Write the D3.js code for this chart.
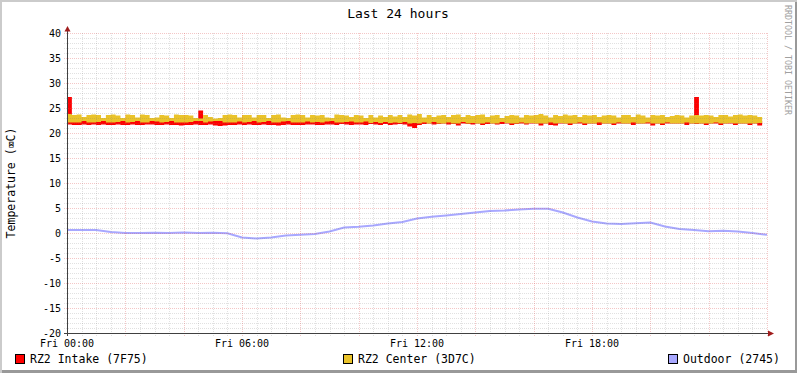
<!DOCTYPE html>
<html>
<head>
<meta charset="utf-8">
<script src="https://cdn.jsdelivr.net/npm/d3@7"></script>
<style>
  body { margin: 0; background: #fff; }
  text { font-family: "DejaVu Sans Mono", monospace; }
</style>
</head>
<body>
<div id="chart"></div>
<script>
// series, 10 minute bins from Fri 00:00 (min / max envelope of each bin)
const intakeHi = [
  27.2, 22.4, 22.4, 22.4, 22.4, 22.4, 22.4, 22.4, 22.4, 22.4, 22.4, 22.4,
  22.4, 22.4, 22.4, 22.4, 22.4, 22.4, 22.4, 22.4, 22.4, 22.4, 22.4, 22.4,
  22.4, 22.4, 22.4, 24.5, 22.4, 22.4, 22.4, 22.4, 22.4, 22.4, 22.4, 22.4,
  22.4, 22.4, 22.4, 22.4, 22.4, 22.4, 22.4, 22.4, 22.4, 22.4, 22.4, 22.4,
  22.4, 22.4, 22.4, 22.4, 22.4, 22.4, 22.4, 22.4, 22.4, 22.4, 22.4, 22.4,
  22.4, 22.4, 22.4, 22.4, 22.4, 22.4, 22.4, 22.4, 22.4, 22.4, 22.4, 22.4,
  22.4, 22.4, 22.4, 22.4, 22.4, 22.4, 22.4, 22.4, 22.4, 22.4, 22.4, 22.4,
  22.4, 22.4, 22.4, 22.4, 22.4, 22.4, 22.4, 22.4, 22.4, 22.4, 22.4, 22.4,
  22.4, 22.4, 22.4, 22.4, 22.4, 22.4, 22.4, 22.4, 22.4, 22.4, 22.4, 22.4,
  22.4, 22.4, 22.4, 22.4, 22.4, 22.4, 22.4, 22.4, 22.4, 22.4, 22.4, 22.4,
  22.4, 22.4, 22.4, 22.4, 22.4, 22.4, 22.4, 22.4, 22.4, 27.2, 22.4, 22.4,
  22.4, 22.4, 22.4, 22.4, 22.4, 22.4, 22.4, 22.4, 22.4, 22.4, 22.4
];
const intakeLo = [
  21.7, 21.6, 21.6, 21.7, 21.6, 21.7, 21.6, 21.7, 21.6, 21.6, 21.7, 21.6,
  21.6, 21.7, 21.6, 21.6, 21.7, 21.7, 21.6, 21.6, 21.7, 21.6, 21.6, 21.5,
  21.6, 21.6, 21.7, 21.6, 21.6, 21.7, 21.5, 21.4, 21.5, 21.6, 21.6, 21.7,
  21.6, 21.7, 21.6, 21.6, 21.7, 21.6, 21.6, 21.5, 21.6, 21.7, 21.6, 21.6,
  21.6, 21.7, 21.7, 21.6, 21.6, 21.7, 21.7, 21.6, 21.8, 21.7, 21.6, 21.7,
  21.7, 21.6, 21.8, 21.7, 21.6, 21.8, 21.6, 21.7, 21.8, 21.7, 21.3, 21.0,
  21.6, 21.8, 21.9, 21.7, 21.8, 21.9, 21.7, 21.8, 21.5, 21.9, 21.8, 21.7,
  21.9, 21.6, 21.8, 21.9, 21.7, 21.8, 21.9, 21.6, 21.8, 21.9, 21.7, 21.9,
  21.9, 21.5, 21.9, 21.6, 21.5, 21.9, 21.9, 21.6, 21.9, 21.9, 21.6, 21.9,
  21.9, 21.6, 21.9, 21.9, 21.6, 21.9, 21.9, 21.9, 21.6, 21.9, 21.9, 21.9,
  21.5, 21.9, 21.6, 21.9, 21.9, 21.9, 21.9, 21.6, 21.9, 21.8, 21.9, 21.6,
  21.9, 21.9, 21.6, 21.9, 21.9, 21.6, 21.9, 21.9, 21.6, 21.9, 21.5
];
const centerHi = [
  23.8, 23.6, 23.7, 23.2, 23.6, 23.7, 23.6, 23.0, 23.6, 23.7, 23.5, 23.0,
  23.7, 23.6, 23.1, 23.7, 23.6, 23.0, 23.1, 23.6, 23.5, 23.0, 23.7, 23.6,
  23.6, 23.5, 23.0, 22.9, 23.6, 23.2, 22.9, 23.0, 23.6, 23.7, 23.6, 23.1,
  23.6, 23.6, 23.1, 23.6, 23.6, 23.0, 23.6, 23.7, 23.1, 23.0, 23.6, 23.7,
  23.6, 23.1, 23.6, 23.5, 23.6, 23.1, 23.0, 23.7, 23.6, 23.5, 23.2, 23.6,
  23.5, 23.0, 23.6, 23.1, 23.5, 23.2, 23.6, 23.3, 23.6, 23.2, 23.7, 23.5,
  23.8, 23.1, 23.6, 23.2, 23.5, 23.6, 23.2, 23.6, 23.7, 23.2, 23.6, 23.4,
  23.6, 23.7, 23.2, 23.5, 23.6, 23.0, 23.4, 23.6, 23.5, 23.1, 23.6, 23.5,
  23.6, 23.8, 23.5, 23.1, 23.6, 23.4, 23.7, 23.5, 23.6, 23.2, 23.6, 23.5,
  23.6, 23.2, 23.5, 23.6, 23.5, 23.1, 23.6, 23.6, 23.2, 23.7, 23.5, 23.1,
  23.6, 23.5, 23.6, 23.2, 23.4, 23.6, 23.5, 23.1, 23.5, 23.6, 23.5, 23.6,
  23.5, 23.2, 23.6, 23.6, 23.3, 23.6, 23.7, 23.5, 23.6, 23.5, 23.2
];
const centerLo = [
  22.1, 22.1, 22.1, 22.4, 22.1, 22.1, 22.2, 22.4, 22.1, 22.1, 22.2, 22.4,
  22.1, 22.2, 22.4, 22.1, 22.1, 22.4, 22.3, 22.1, 22.2, 22.4, 22.1, 22.1,
  22.1, 22.2, 22.4, 22.4, 22.1, 22.3, 22.4, 22.4, 22.1, 22.1, 22.1, 22.3,
  22.1, 22.2, 22.4, 22.1, 22.2, 22.4, 22.1, 22.1, 22.3, 22.4, 22.1, 22.1,
  22.1, 22.3, 22.1, 22.2, 22.1, 22.3, 22.4, 22.1, 22.1, 22.2, 22.3, 22.1,
  22.1, 22.3, 22.0, 22.2, 22.0, 22.2, 22.0, 22.1, 22.0, 22.2, 21.9, 22.0,
  21.9, 22.1, 21.9, 22.2, 21.9, 21.9, 22.1, 21.9, 21.9, 22.2, 21.9, 22.0,
  21.9, 21.9, 22.1, 21.9, 21.9, 22.2, 22.0, 21.9, 21.9, 22.1, 21.9, 22.0,
  21.9, 21.9, 21.9, 22.1, 21.9, 22.0, 21.9, 21.9, 21.9, 22.1, 21.9, 21.9,
  21.9, 22.1, 21.9, 21.9, 21.9, 22.1, 21.9, 21.9, 22.1, 21.9, 21.9, 22.1,
  21.9, 21.9, 21.9, 22.1, 21.9, 21.9, 21.9, 22.1, 21.9, 21.9, 21.9, 21.9,
  21.9, 22.1, 21.9, 21.9, 22.0, 21.9, 21.9, 21.9, 21.9, 21.9, 22.0
];
// outdoor, 30 minute steps from Fri 00:00
const outdoor = [
  0.6, 0.6, 0.6, 0.2, 0.0, 0.0, 0.05, 0.0, 0.1, 0.0, 0.05, -0.05,
  -0.9, -1.1, -0.9, -0.5, -0.35, -0.2, 0.3, 1.1, 1.25, 1.5, 1.9, 2.2,
  2.9, 3.25, 3.5, 3.8, 4.1, 4.4, 4.5, 4.7, 4.85, 4.85, 4.1, 3.1,
  2.3, 1.9, 1.8, 1.95, 2.1, 1.3, 0.8, 0.6, 0.35, 0.45, 0.3, 0.0, -0.35
];
const yTicks = [-20, -15, -10, -5, 0, 5, 10, 15, 20, 25, 30, 35, 40];
const legendNames = ["RZ2 Intake (7F75)", "RZ2 Center (3D7C)", "Outdoor (2745)"];
const legendColors = ["#ff0000", "#eac32a", "#a8a8ff"];

const W = 797, H = 373;
const t0 = new Date(2010, 0, 1, 0, 0); // a Friday
const t1 = d3.timeHour.offset(t0, 24);

const svg = d3.select("#chart").append("svg")
  .attr("width", W).attr("height", H);

// frame
svg.append("rect").attr("width", W).attr("height", H).attr("fill", "#cbcbcb");
svg.append("rect").attr("x", 2).attr("y", 2).attr("width", W - 2).attr("height", H - 2).attr("fill", "#999");
svg.append("rect").attr("x", 2).attr("y", 2).attr("width", W - 4).attr("height", H - 5).attr("fill", "#fff");

const x = d3.scaleTime().domain([t0, t1]).range([67, 767]);
const y = d3.scaleLinear().domain([-20, 40]).range([333, 33]);

const bins = intakeHi.map((d, i) => ({
  t: d3.timeMinute.offset(t0, i * 10),
  iHi: d, iLo: intakeLo[i], cHi: centerHi[i], cLo: centerLo[i]
}));
// closing point so the last step is drawn
const last = bins[bins.length - 1];
bins.push(Object.assign({}, last, { t: d3.timeMinute.offset(t0, bins.length * 10) }));

const outPts = outdoor.map((v, i) => ({ t: d3.timeMinute.offset(t0, i * 30), v: v }));

// data
svg.append("path").datum(bins)
  .attr("fill", legendColors[0])
  .attr("d", d3.area().curve(d3.curveStepAfter)
    .x(d => x(d.t)).y0(d => y(d.iLo)).y1(d => y(d.iHi)));
svg.append("path").datum(bins)
  .attr("fill", legendColors[1])
  .attr("d", d3.area().curve(d3.curveStepAfter)
    .x(d => x(d.t)).y0(d => y(d.cLo)).y1(d => y(d.cHi)));
svg.append("path").datum(outPts)
  .attr("fill", "none").attr("stroke", legendColors[2]).attr("stroke-width", 2)
  .attr("d", d3.line().x(d => x(d.t)).y(d => y(d.v)));

// grid
const majorCol = "rgba(220,80,80,0.32)", minorCol = "rgba(120,120,120,0.22)";
const grid = svg.append("g");
const minorY = d3.range(-20, 41, 1);
grid.selectAll(".hy").data(minorY).join("line")
  .attr("x1", 64).attr("x2", 767)
  .attr("y1", d => y(d) + 0.5).attr("y2", d => y(d) + 0.5)
  .attr("stroke", d => d % 5 === 0 ? majorCol : minorCol)
  .attr("stroke-dasharray", "1,1");
const minorX = d3.timeMinute.every(30).range(t0, d3.timeMinute.offset(t1, 1));
grid.selectAll(".vx").data(minorX).join("line")
  .attr("x1", d => Math.round(x(d)) + 0.5).attr("x2", d => Math.round(x(d)) + 0.5)
  .attr("y1", 33).attr("y2", 336)
  .attr("stroke", d => d.getMinutes() === 0 && d.getHours() % 2 === 0 ? majorCol : minorCol)
  .attr("stroke-dasharray", "1,1");

// axes
svg.append("line").attr("x1", 67.5).attr("x2", 67.5).attr("y1", 336).attr("y2", 30)
  .attr("stroke", "#404040");
svg.append("line").attr("x1", 64).attr("x2", 770).attr("y1", 333.5).attr("y2", 333.5)
  .attr("stroke", "#404040");
svg.append("path").attr("d", "M64.5,31.5 L67.5,26 L70.5,31.5 Z").attr("fill", "#a01c1c");
svg.append("path").attr("d", "M768,330.5 L774,333.5 L768,336.5 Z").attr("fill", "#a01c1c");

svg.append("g").selectAll("text").data(yTicks).join("text")
  .attr("x", 61).attr("y", d => y(d) + 3.5)
  .attr("text-anchor", "end").attr("font-size", 10).attr("fill", "#000")
  .text(d => d);

const xLabels = d3.timeHour.every(6).range(t0, t1);
svg.append("g").selectAll("text").data(xLabels).join("text")
  .attr("x", d => x(d)).attr("y", 347)
  .attr("text-anchor", "middle").attr("font-size", 10).attr("fill", "#000")
  .text(d3.timeFormat("%a %H:%M"));

// titles
svg.append("text").attr("x", 398).attr("y", 18).attr("text-anchor", "middle")
  .attr("font-size", 13).attr("fill", "#000").text("Last 24 hours");
svg.append("text").attr("transform", "translate(15,183) rotate(-90)")
  .attr("text-anchor", "middle").attr("font-size", 11.5).attr("fill", "#000")
  .text("Temperature (⌧C)");
svg.append("text").attr("transform", "translate(785,5) rotate(90)")
  .attr("font-size", 8.3).attr("fill", "#a0a0a0")
  .text("RRDTOOL / TOBI OETIKER");

// legend
const legendX = [15, 343, 668];
const leg = svg.append("g").selectAll("g").data(legendNames).join("g")
  .attr("transform", (d, i) => "translate(" + legendX[i] + ",354)");
leg.append("rect").attr("x", 0.5).attr("y", 0.5).attr("width", 9).attr("height", 9)
  .attr("fill", (d, i) => legendColors[i]).attr("stroke", "#000");
leg.append("text").attr("x", 15).attr("y", 9).attr("font-size", 11.5).attr("fill", "#000")
  .text(d => d);
</script>
</body>
</html>
